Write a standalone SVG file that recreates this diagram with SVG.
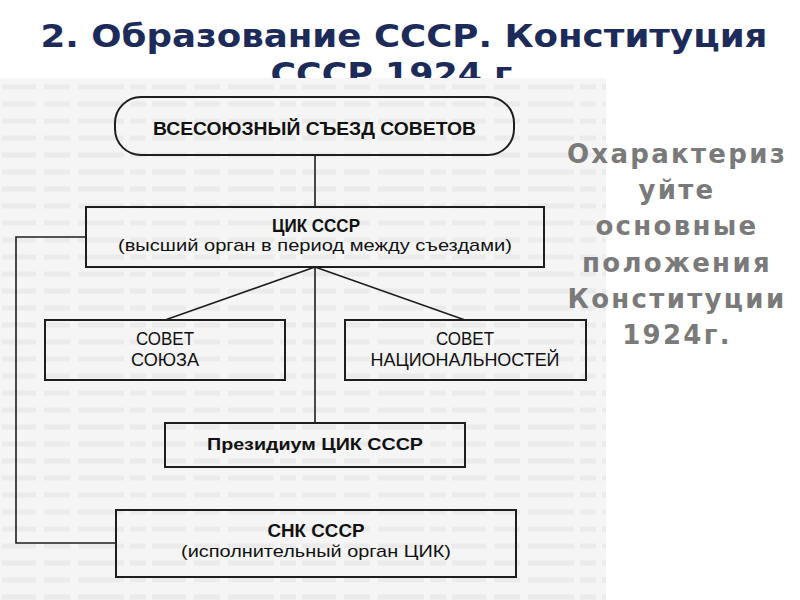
<svg xmlns="http://www.w3.org/2000/svg" width="800" height="600" viewBox="0 0 800 600">
  <defs>
    <pattern id="scan" x="0" y="78" width="150" height="17" patternUnits="userSpaceOnUse">
      <rect width="150" height="17" fill="#f5f5f5"/>
      <path d="M2 9h34M44 9h26M78 9h46M130 9h16" stroke="#ebebeb" stroke-width="5"/>
    </pattern>
    <style>
      .box { fill: none; stroke: #1e1e1e; stroke-width: 2; }
      .ln { fill: none; stroke: #1e1e1e; stroke-width: 1.6; }
      .b { font-family: "Liberation Sans", Arial, sans-serif; font-weight: bold; fill: #111; text-anchor: middle; }
      .r { font-family: "Liberation Sans", Arial, sans-serif; fill: #111; text-anchor: middle; }
      .title { font-family: "DejaVu Sans", sans-serif; font-weight: bold; font-size: 32px; fill: #1c2b5a; text-anchor: middle; }
      .side { font-family: "DejaVu Sans", sans-serif; font-weight: bold; font-size: 26px; fill: #7a7a7a; text-anchor: middle; letter-spacing: 2.3px; }
    </style>
  </defs>
  <rect width="800" height="600" fill="#ffffff"/>
  <text class="title" x="404" y="47" textLength="727" lengthAdjust="spacingAndGlyphs">2. Образование СССР. Конституция</text>
  <text class="title" x="398" y="85" textLength="255" lengthAdjust="spacingAndGlyphs">СССР 1924 г.</text>
  <rect x="0" y="78" width="606" height="522" fill="url(#scan)"/>

  <g id="connectors">
    <line class="ln" x1="315" y1="155" x2="315" y2="207"/>
    <line class="ln" x1="315" y1="267" x2="165" y2="320"/>
    <line class="ln" x1="315" y1="267" x2="465" y2="320"/>
    <line class="ln" x1="315" y1="267" x2="315" y2="423"/>
    <polyline class="ln" points="86,237 16,237 16,543 116,543"/>
  </g>

  <g id="congress">
    <rect class="box" x="115" y="97" width="399" height="58" rx="26" ry="26"/>
    <text class="b" x="314.5" y="135" font-size="18" textLength="323" lengthAdjust="spacingAndGlyphs">ВСЕСОЮЗНЫЙ СЪЕЗД СОВЕТОВ</text>
  </g>
  <g id="cik">
    <rect class="box" x="86" y="207" width="458" height="60"/>
    <text class="b" x="316" y="232" font-size="18" textLength="88" lengthAdjust="spacingAndGlyphs">ЦИК СССР</text>
    <text class="r" x="315" y="251" font-size="17" textLength="394" lengthAdjust="spacingAndGlyphs">(высший орган в период между съездами)</text>
  </g>
  <g id="union">
    <rect class="box" x="45" y="320" width="240" height="60"/>
    <text class="r" x="165" y="345" font-size="18" textLength="58" lengthAdjust="spacingAndGlyphs">СОВЕТ</text>
    <text class="r" x="165" y="366" font-size="18" textLength="68" lengthAdjust="spacingAndGlyphs">СОЮЗА</text>
  </g>
  <g id="nationalities">
    <rect class="box" x="345" y="320" width="241" height="60"/>
    <text class="r" x="465" y="345" font-size="18" textLength="58" lengthAdjust="spacingAndGlyphs">СОВЕТ</text>
    <text class="r" x="465" y="366" font-size="18" textLength="189" lengthAdjust="spacingAndGlyphs">НАЦИОНАЛЬНОСТЕЙ</text>
  </g>
  <g id="presidium">
    <rect class="box" x="165" y="423" width="300" height="44"/>
    <text class="b" x="315" y="450" font-size="17" textLength="216" lengthAdjust="spacingAndGlyphs">Президиум ЦИК СССР</text>
  </g>
  <g id="snk">
    <rect class="box" x="116" y="510" width="400" height="67"/>
    <text class="b" x="316" y="537" font-size="18" textLength="97" lengthAdjust="spacingAndGlyphs">СНК СССР</text>
    <text class="r" x="316" y="557" font-size="17" textLength="270" lengthAdjust="spacingAndGlyphs">(исполнительный орган ЦИК)</text>
  </g>

  <g id="task">
    <text class="side" x="677" y="163">Охарактериз</text>
    <text class="side" x="677" y="199">уйте</text>
    <text class="side" x="677" y="235">основные</text>
    <text class="side" x="677" y="272">положения</text>
    <text class="side" x="677" y="308">Конституции</text>
    <text class="side" x="677" y="344">1924г.</text>
  </g>
</svg>
